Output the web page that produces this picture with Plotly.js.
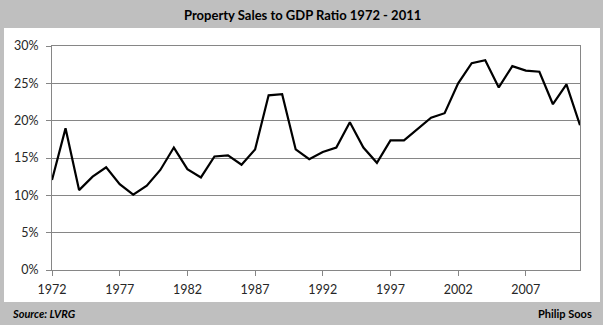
<!DOCTYPE html>
<html>
<head>
<meta charset="utf-8">
<script src="https://cdn.plot.ly/plotly-3.0.1.min.js"></script>
<style>html,body{margin:0;padding:0;background:#fff;}</style>
</head>
<body>
<div id="chart" style="width:607px;height:326px;"></div>
<script>
var years = [];
for (var y = 1972; y <= 2011; y++) years.push(y);
var ratio = [12.05, 18.97, 10.7, 12.5, 13.75, 11.5, 10.1, 11.3, 13.4, 16.4,
             13.5, 12.4, 15.2, 15.35, 14.1, 16.15, 23.4, 23.55, 16.15, 14.85,
             15.8, 16.4, 19.8, 16.4, 14.35, 17.35, 17.35, 18.87, 20.4, 21.0,
             25.0, 27.7, 28.1, 24.45, 27.3, 26.7, 26.55, 22.2, 24.85, 19.4];
var yTicks = [0, 5, 10, 15, 20, 25, 30];
var yTickLabels = ["0%", "5%", "10%", "15%", "20%", "25%", "30%"];
var titleText = "Property Sales to GDP Ratio 1972 - 2011";
var sourceText = "Source: LVRG";
var authorText = "Philip Soos";

// geometry helpers (pixel -> paper)
var L = 52, R = 580, T = 46, B = 270, W = 607, H = 326;
function px(x) { return (x - L) / (R - L); }
function py(y) { return (B - y) / (B - T); }

var font = "Lato, 'Open Sans', 'Liberation Sans', sans-serif";

var trace = {
  x: years, y: ratio, type: "scatter", mode: "lines",
  line: {color: "#000000", width: 2.2},
  hoverinfo: "skip"
};

var layout = {
  width: W, height: H,
  margin: {l: L, r: W - R, t: T, b: H - B, pad: 0},
  paper_bgcolor: "#ffffff",
  plot_bgcolor: "#ffffff",
  showlegend: false,
  font: {family: font, size: 12, color: "#262626"},
  xaxis: {
    range: [1972, 2011], tick0: 1972, dtick: 5, tickmode: "linear",
    showgrid: false, zeroline: false,
    showline: true, linecolor: "#868686", linewidth: 1, mirror: true,
    ticks: "outside", ticklen: 5, tickcolor: "#868686", tickwidth: 1,
    ticklabelstandoff: 3,
    tickfont: {family: font, size: 12.5, color: "#262626"}
  },
  yaxis: {
    range: [0, 30], tickvals: yTicks, ticktext: yTickLabels,
    showgrid: true, gridcolor: "#868686", gridwidth: 1, zeroline: false,
    showline: true, linecolor: "#868686", linewidth: 1, mirror: true,
    ticks: "outside", ticklen: 5, tickcolor: "#868686", tickwidth: 1,
    ticklabelstandoff: 5,
    tickfont: {family: font, size: 12.5, color: "#262626"}
  },
  shapes: [
    {type: "rect", xref: "paper", yref: "paper", layer: "below",
     x0: px(0), x1: px(603), y0: py(325), y1: py(0),
     fillcolor: "#bfbfbf", line: {width: 0}},
    {type: "rect", xref: "paper", yref: "paper", layer: "below",
     x0: px(4), x1: px(600), y0: py(302), y1: py(28),
     fillcolor: "#ffffff", line: {width: 0}}
  ],
  annotations: [
    {text: "<b>" + titleText + "</b>", xref: "paper", yref: "paper",
     x: px(302), y: py(15), xanchor: "center", yanchor: "middle", showarrow: false,
     font: {family: font, size: 13, color: "#000000"}},
    {text: "<b><i>" + sourceText + "</i></b>", xref: "paper", yref: "paper",
     x: px(10), y: py(313), xanchor: "left", yanchor: "middle", showarrow: false,
     font: {family: font, size: 11, color: "#000000"}},
    {text: "<b>" + authorText + "</b>", xref: "paper", yref: "paper",
     x: px(594), y: py(313), xanchor: "right", yanchor: "middle", showarrow: false,
     font: {family: font, size: 11, color: "#000000"}}
  ]
};

Plotly.newPlot("chart", [trace], layout, {displayModeBar: false, staticPlot: true});
</script>
</body>
</html>
